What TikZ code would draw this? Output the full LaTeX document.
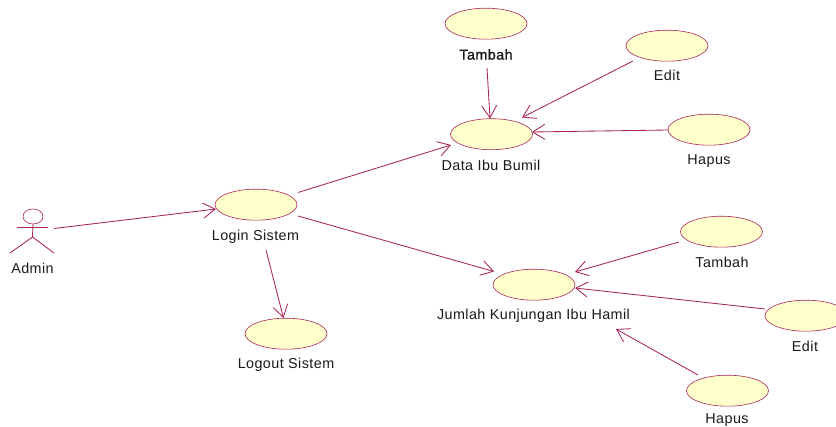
\documentclass[tikz,border=0pt]{standalone}
\usepackage{fontspec}
\setmainfont{Liberation Sans}[LetterSpace=3]
\newfontfamily\fakebold{Liberation Sans}[LetterSpace=3,FakeBold=1.2]
\usetikzlibrary{shapes.geometric,arrows.meta}
\definecolor{umlline}{HTML}{A8245A}
\definecolor{umlfill}{HTML}{FFFFCC}
\tikzset{
 usecase/.style={ellipse,draw=umlline,fill=umlfill,line width=0.6pt,minimum width=82pt,minimum height=31pt,inner sep=0pt,outer sep=0pt},
 caption/.style={inner sep=0pt,font=\fontsize{14.35pt}{16pt}\selectfont,text=black!90},
 assoc/.style={draw=umlline,line width=0.85pt,-{Straight Barb[length=12pt,width=15pt,line width=0.85pt]}},
 stick/.style={draw=umlline,line width=0.85pt}
}
\begin{document}
\begin{tikzpicture}[x=1pt,y=-1pt]
\useasboundingbox (0,0) rectangle (836,427);
\clip (0,0) rectangle (836,427);
% use cases
\node[usecase] (login) at (256,204.7) {};
\node[usecase] (logout) at (286,333.7) {};
\node[usecase] (data) at (491.5,134.2) {};
\node[usecase] (tambahA) at (486,23.7) {};
\node[usecase] (editA) at (667,45.7) {};
\node[usecase] (hapusA) at (709,129.7) {};
\node[usecase] (jumlah) at (534,284.7) {};
\node[usecase] (tambahB) at (721.5,231.7) {};
\node[usecase] (editB) at (806,315.7) {};
\node[usecase] (hapusB) at (727.5,390.7) {};
% captions
\node[caption] (tLogin) at (255.5,236.5) {Login Sistem};
\node[caption] (tLogout) at (286,365) {Logout Sistem};
\node[caption] (tData) at (491,165.5) {Data Ibu Bumil};
\node[caption,font=\fontsize{14.35pt}{16pt}\selectfont\fakebold] (tTambahA) at (486,54.5) {Tambah};
\node[caption] (tEditA) at (667,75.5) {Edit};
\node[caption] (tHapusA) at (709,161.5) {Hapus};
\node[caption] (tJumlah) at (533.5,316) {Jumlah Kunjungan Ibu Hamil};
\node[caption] (tTambahB) at (722,262.5) {Tambah};
\node[caption] (tEditB) at (805,346.5) {Edit};
\node[caption] (tHapusB) at (727,420) {Hapus};
\node[caption] (tAdmin) at (32.5,268.5) {Admin};
% actor
\node[ellipse,draw=umlline,fill=white,line width=0.6pt,minimum width=20pt,minimum height=15pt,inner sep=0,outer sep=0] (admin) at (33,216.5) {};
\coordinate (neck) at (32.5,237);
\draw[stick] (admin.south) -- (neck);
\draw[stick] (16.5,227.7) -- (48,227.7);
\draw[stick] (10,253) -- (neck) -- (54,253);
% free ends of connectors
\coordinate (aS) at (54,228.5);
\coordinate (aE) at (216,209);
\coordinate (b1S) at (298,192.5);
\coordinate (b1E) at (451,145);
\coordinate (b2S) at (298,216);
\coordinate (b2E) at (494,271.5);
\coordinate (cS) at (266,250);
\coordinate (cE) at (283.5,318);
\coordinate (dS) at (487,68);
\coordinate (dE) at (490,118.5);
\coordinate (eS) at (633,61);
\coordinate (eE) at (522,117.5);
\coordinate (fS) at (668,130);
\coordinate (fE) at (532,132);
\coordinate (gS) at (679,242);
\coordinate (gE) at (575,272);
\coordinate (hS) at (765,309);
\coordinate (hE) at (575,288);
\coordinate (iS) at (698,375);
\coordinate (iE) at (616,329);
% connectors
\draw[assoc] (aS) -- (aE);
\draw[assoc] (b1S) -- (b1E);
\draw[assoc] (b2S) -- (b2E);
\draw[assoc] (cS) -- (cE);
\draw[assoc] (dS) -- (dE);
\draw[assoc] (eS) -- (eE);
\draw[assoc] (fS) -- (fE);
\draw[assoc] (gS) -- (gE);
\draw[assoc] (hS) -- (hE);
\draw[assoc] (iS) -- (iE);
\end{tikzpicture}
\end{document}
